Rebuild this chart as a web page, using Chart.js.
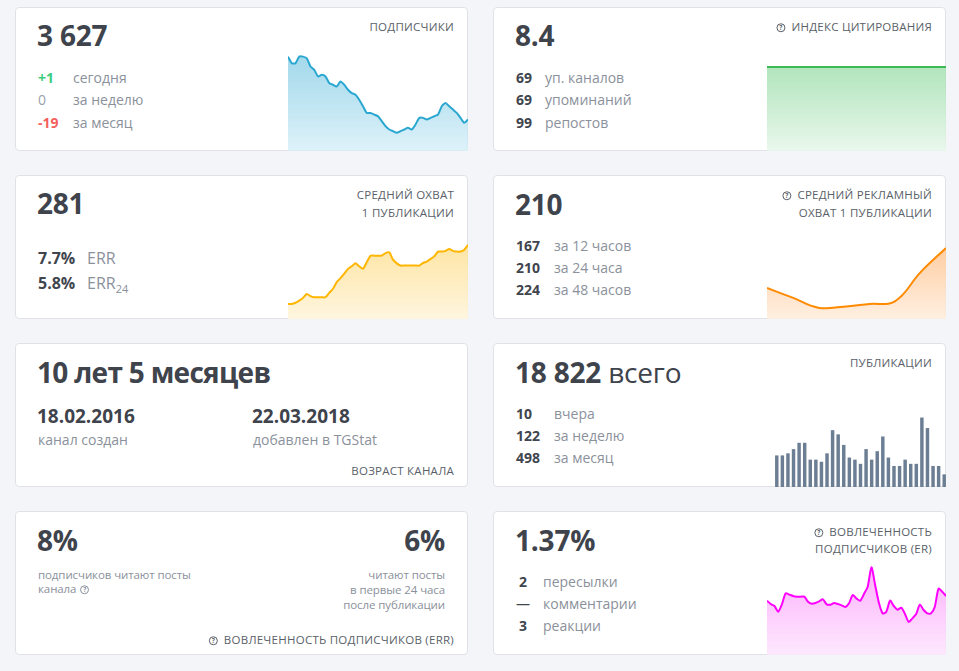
<!DOCTYPE html>
<html lang="ru">
<head>
<meta charset="utf-8">
<title>Статистика канала</title>
<script src="https://cdn.jsdelivr.net/npm/chart.js@4.4.1/dist/chart.umd.min.js"></script>
<style>
    html, body { margin: 0; padding: 0; }
    body {
        width: 959px; height: 671px; overflow: hidden; position: relative;
        background: #f4f5f9; font-family: "Open Sans", "Noto Sans", sans-serif; color: #3e434c;
    }
    .card {
        position: absolute; width: 453px; height: 144px; box-sizing: border-box;
        background: #fff; border: 1px solid #e0e2e8; border-radius: 4px;
    }
    .t { position: absolute; line-height: 1; white-space: nowrap; transform: translateY(-50%); }
    .r { transform: translate(-100%, -50%); }
    .big { font-size: 28px; font-weight: 700; color: #3e434c; letter-spacing: -0.2px; }
    .big span { font-weight: 400; }
    .title { font-size: 11.5px; color: #5a5f69; letter-spacing: 0.25px; }
    .val { font-size: 14px; font-weight: 700; color: #40454e; }
    .lbl { font-size: 14px; color: #8b919b; }
    .mid { font-size: 16px; }
    .date { font-size: 19px; font-weight: 700; color: #3e434c; }
    .small { font-size: 11.5px; color: #8b919b; letter-spacing: -0.1px; }
    .q {
        display: inline-block; width: 7px; height: 7px; border: 1.3px solid #5a5f69; border-radius: 50%;
        font-size: 6.5px; line-height: 7px; text-align: center; font-weight: 700; vertical-align: 1px;
        margin-right: 6px;
    }
    .small .q { border-color: #8b919b; margin: 0 0 0 4px; }
    sub { font-size: 11px; vertical-align: -4px; line-height: 0; }
    .chart { position: absolute; }
</style>
</head>
<body>
<div class="card" style="left:15px;top:7px"></div>
<div class="card" style="left:493px;top:7px"></div>
<div class="card" style="left:15px;top:175px"></div>
<div class="card" style="left:493px;top:175px"></div>
<div class="card" style="left:15px;top:343px"></div>
<div class="card" style="left:493px;top:343px"></div>
<div class="card" style="left:15px;top:511px"></div>
<div class="card" style="left:493px;top:511px"></div>

<!-- подписчики -->
<div class="t big" style="left:37px;top:35px">3 627</div>
<div class="t title r" style="left:454px;top:27px">ПОДПИСЧИКИ</div>
<div class="t val" style="left:38px;top:78px;color:#3ccd7c">+1</div>
<div class="t val" style="left:38px;top:100px;color:#9ba1aa;font-weight:400">0</div>
<div class="t val" style="left:38px;top:123px;color:#f45f5e">-19</div>
<div class="t lbl" style="left:73px;top:78px">сегодня</div>
<div class="t lbl" style="left:73px;top:100px">за неделю</div>
<div class="t lbl" style="left:73px;top:123px">за месяц</div>
<div class="chart" style="left:288px;top:50px;width:180px;height:101px"><canvas id="subs"></canvas></div>

<!-- индекс цитирования -->
<div class="t big" style="left:515px;top:35px">8.4</div>
<div class="t title r" style="left:932px;top:27px"><span class="q">?</span>ИНДЕКС ЦИТИРОВАНИЯ</div>
<div class="t val" style="left:516px;top:78px">69</div>
<div class="t val" style="left:516px;top:100px">69</div>
<div class="t val" style="left:516px;top:123px">99</div>
<div class="t lbl" style="left:545px;top:78px">уп. каналов</div>
<div class="t lbl" style="left:545px;top:100px">упоминаний</div>
<div class="t lbl" style="left:545px;top:123px">репостов</div>
<div class="chart" style="left:767px;top:55px;width:179px;height:96px"><canvas id="cite"></canvas></div>

<!-- средний охват -->
<div class="t big" style="left:37px;top:203px">281</div>
<div class="t title r" style="left:454px;top:195px">СРЕДНИЙ ОХВАТ</div>
<div class="t title r" style="left:454px;top:213px">1 ПУБЛИКАЦИИ</div>
<div class="t val mid" style="left:38px;top:258px">7.7%</div>
<div class="t val mid" style="left:38px;top:283px">5.8%</div>
<div class="t lbl mid" style="left:87px;top:258px">ERR</div>
<div class="t lbl mid" style="left:87px;top:283px">ERR<sub>24</sub></div>
<div class="chart" style="left:288px;top:235px;width:180px;height:84px"><canvas id="reach"></canvas></div>

<!-- рекламный охват -->
<div class="t big" style="left:515px;top:204px">210</div>
<div class="t title r" style="left:932px;top:195px"><span class="q">?</span>СРЕДНИЙ РЕКЛАМНЫЙ</div>
<div class="t title r" style="left:932px;top:213px">ОХВАТ 1 ПУБЛИКАЦИИ</div>
<div class="t val" style="left:516px;top:246px">167</div>
<div class="t val" style="left:516px;top:268px">210</div>
<div class="t val" style="left:516px;top:290px">224</div>
<div class="t lbl" style="left:554px;top:246px">за 12 часов</div>
<div class="t lbl" style="left:554px;top:268px">за 24 часа</div>
<div class="t lbl" style="left:554px;top:290px">за 48 часов</div>
<div class="chart" style="left:767px;top:240px;width:179px;height:79px"><canvas id="adreach"></canvas></div>

<!-- возраст канала -->
<div class="t big" style="left:37px;top:372px;letter-spacing:-0.7px">10 лет 5 месяцев</div>
<div class="t date" style="left:37px;top:416px">18.02.2016</div>
<div class="t date" style="left:252px;top:416px">22.03.2018</div>
<div class="t lbl" style="left:38px;top:440px">канал создан</div>
<div class="t lbl" style="left:253px;top:440px">добавлен в TGStat</div>
<div class="t title r" style="left:454px;top:471px">ВОЗРАСТ КАНАЛА</div>

<!-- публикации -->
<div class="t big" style="left:515px;top:372px">18 822 <span>всего</span></div>
<div class="t title r" style="left:932px;top:363px">ПУБЛИКАЦИИ</div>
<div class="t val" style="left:516px;top:414px">10</div>
<div class="t val" style="left:516px;top:436px">122</div>
<div class="t val" style="left:516px;top:458px">498</div>
<div class="t lbl" style="left:554px;top:414px">вчера</div>
<div class="t lbl" style="left:554px;top:436px">за неделю</div>
<div class="t lbl" style="left:554px;top:458px">за месяц</div>
<div class="chart" style="left:774px;top:407px;width:173px;height:80px"><canvas id="posts"></canvas></div>

<!-- ERR -->
<div class="t big" style="left:37px;top:540px">8%</div>
<div class="t big r" style="left:445px;top:540px">6%</div>
<div class="t small" style="left:38px;top:575px">подписчиков читают посты</div>
<div class="t small" style="left:38px;top:589px">канала<span class="q">?</span></div>
<div class="t small r" style="left:445px;top:575px">читают посты</div>
<div class="t small r" style="left:445px;top:590px">в первые 24 часа</div>
<div class="t small r" style="left:445px;top:605px">после публикации</div>
<div class="t title r" style="left:454px;top:640px"><span class="q">?</span>ВОВЛЕЧЕННОСТЬ ПОДПИСЧИКОВ (ERR)</div>

<!-- ER -->
<div class="t big" style="left:515px;top:540px">1.37%</div>
<div class="t title r" style="left:932px;top:532px"><span class="q">?</span>ВОВЛЕЧЕННОСТЬ</div>
<div class="t title r" style="left:932px;top:549px">ПОДПИСЧИКОВ (ER)</div>
<div class="t val" style="left:523px;top:582px;transform:translate(-50%,-50%)">2</div>
<div class="t val" style="left:523px;top:604px;transform:translate(-50%,-50%);font-weight:400">—</div>
<div class="t val" style="left:523px;top:626px;transform:translate(-50%,-50%)">3</div>
<div class="t lbl" style="left:543px;top:582px">пересылки</div>
<div class="t lbl" style="left:543px;top:604px">комментарии</div>
<div class="t lbl" style="left:543px;top:626px">реакции</div>
<div class="chart" style="left:767px;top:560px;width:179px;height:95px"><canvas id="er"></canvas></div>

<script>
const subscribers = [
    3665, 3661, 3661, 3665, 3665, 3664, 3659, 3657, 3653, 3654, 3653, 3649, 3648, 3647, 3650, 3648, 3645,
    3643, 3642, 3639, 3635, 3631, 3631, 3630, 3629, 3626, 3623, 3621, 3620, 3619, 3620, 3621, 3622, 3621,
    3624, 3628, 3628, 3627, 3628, 3629, 3630, 3635, 3637, 3635, 3633, 3631, 3628, 3625, 3627,
];

const citationIndex = [8.4, 8.4, 8.4, 8.4, 8.4, 8.4, 8.4, 8.4, 8.4, 8.4, 8.4, 8.4];

const avgReach = [
    150, 150, 153, 159, 166, 177, 171, 168, 168, 168, 168, 180, 191, 209, 220, 232, 245,
    252, 260, 252, 245, 263, 281, 281, 281, 281, 288, 290, 270, 260, 254, 254, 254, 254,
    254, 254, 261, 265, 272, 279, 292, 292, 294, 299, 294, 292, 292, 297, 310,
];

const adReachHours = ['0', '6', '12', '18', '24', '30', '36', '48'];
const adReach = [93, 64, 34, 37, 45, 53, 140, 213];

const postsPerDay = [
    15, 15, 16, 18, 21, 21, 13, 13, 12, 16, 27, 25, 20, 14, 13, 11,
    18, 13, 17, 24, 14, 10, 10, 13, 11, 11, 33, 28, 10, 10, 6,
];

const engagementRate = [
    1.63, 1.53, 1.47, 1.30, 1.52, 1.85, 1.81, 1.77, 1.75, 1.75, 1.75, 1.60, 1.54, 1.56, 1.61, 1.67, 1.52,
    1.51, 1.56, 1.53, 1.49, 1.44, 1.55, 1.80, 1.69, 1.63, 1.83, 2.05, 2.63, 2.10, 1.57, 1.25, 1.30, 1.63,
    1.47, 1.36, 1.42, 1.23, 0.99, 1.10, 1.23, 1.51, 1.35, 1.25, 1.25, 1.45, 1.99, 1.90, 1.77,
];

function gradient(top, bottom) {
    return (ctx) => {
        const area = ctx.chart.chartArea;
        if (!area) {
            return bottom;
        }
        const g = ctx.chart.ctx.createLinearGradient(0, area.top, 0, area.bottom);
        g.addColorStop(0, top);
        g.addColorStop(1, bottom);
        return g;
    };
}

function baseOptions(min, max) {
    return {
        responsive: true,
        maintainAspectRatio: false,
        animation: false,
        layout: { padding: 0 },
        plugins: { legend: { display: false }, tooltip: { enabled: false } },
        scales: {
            x: { display: false },
            y: { display: false, min: min, max: max },
        },
        elements: { point: { radius: 0 } },
    };
}

function sparkline(id, values, line, fillTop, fillBottom, min, max, extra = {}) {
    const labels = extra.labels || values.map((_, i) => i);
    return new Chart(document.getElementById(id), {
        type: 'line',
        data: {
            labels: labels,
            datasets: [
                {
                    data: values,
                    borderColor: line,
                    borderWidth: extra.width || 2,
                    backgroundColor: gradient(fillTop, fillBottom),
                    fill: 'start',
                    tension: extra.tension ?? 0.2,
                    cubicInterpolationMode: extra.monotone ? 'monotone' : 'default',
                },
            ],
        },
        options: baseOptions(min, max),
    });
}

sparkline('subs', subscribers, '#2aa7d1', 'rgba(128,202,228,0.75)', 'rgba(214,239,248,0.8)', 3608, 3669);
sparkline('cite', citationIndex, '#3cbb54', 'rgba(150,220,165,0.8)', 'rgba(232,247,235,0.9)', 0, 9.6, { tension: 0 });
sparkline('reach', avgReach, '#ffb600', 'rgba(253,222,140,0.85)', 'rgba(255,245,220,0.9)', 109, 337);
sparkline('adreach', adReach, '#ff8a00', 'rgba(255,196,145,0.9)', 'rgba(255,238,222,0.9)', 0, 237,
    { labels: adReachHours, tension: 0.4 });
sparkline('er', engagementRate, '#ff00ff', 'rgba(252,160,252,0.85)', 'rgba(253,230,253,0.9)', 0, 2.85,
    { tension: 0.25 });

new Chart(document.getElementById('posts'), {
    type: 'bar',
    data: {
        labels: postsPerDay.map((_, i) => i + 1),
        datasets: [
            {
                data: postsPerDay,
                backgroundColor: '#6c7e94',
                barPercentage: 0.62,
                categoryPercentage: 1,
            },
        ],
    },
    options: baseOptions(0, 38),
});
</script>
</body>
</html>
